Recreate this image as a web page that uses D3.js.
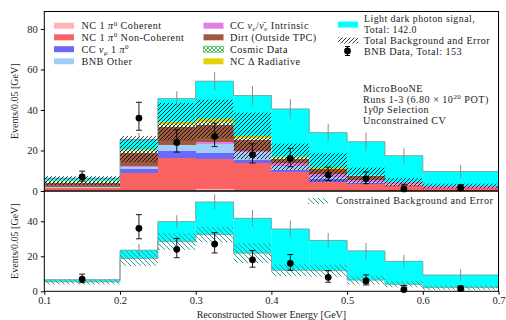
<!DOCTYPE html>
<html>
<head>
<meta charset="utf-8">
<script src="https://cdn.jsdelivr.net/npm/d3@7"></script>
<style>
  html, body { margin: 0; padding: 0; background: #fff; }
  svg { display: block; font-family: "Liberation Serif", "DejaVu Serif", serif; }
</style>
</head>
<body>
<svg id="chart" width="506" height="320"></svg>
<script>
// Bin edges in reconstructed shower energy [GeV]
const binLo = [0.10, 0.20, 0.25, 0.30, 0.35, 0.40, 0.45, 0.50, 0.55, 0.60];
const binHi = [0.20, 0.25, 0.30, 0.35, 0.40, 0.45, 0.50, 0.55, 0.60, 0.70];

// Background predictions, events / 0.05 GeV
const ncCoherent    = [0.3, 0.5, 0.7, 0.8, 0.7, 0.5, 0.4, 0.3, 0.2, 0.1];
const ncNonCoherent = [1.3, 8.2, 15.8, 15.0, 13.0, 8.7, 4.2, 3.0, 2.7, 1.2];
const ccNumuPi0     = [0.1, 2.0, 3.0, 2.8, 1.6, 1.2, 1.2, 0.8, 0.2, 0.1];
const bnbOther      = [0.1, 1.3, 3.0, 4.4, 3.8, 1.9, 1.0, 0.5, 0.2, 0.1];
const ccNueIntr     = [0.05, 0.2, 0.3, 1.3, 0.8, 1.4, 1.6, 0.8, 0.9, 0.8];
const dirt          = [1.9, 6.4, 8.7, 8.3, 5.3, 2.3, 2.5, 2.1, 0.1, 0.05];
const cosmicData    = [1.3, 1.7, 1.7, 1.6, 0.9, 0.3, 0.1, 0.0, 0.0, 0.0];
const ncDeltaRad    = [0.05, 0.3, 1.0, 1.4, 1.1, 0.6, 0.6, 0.1, 0.0, 0.05];

// Unconstrained background uncertainty
const bkgErr = [2.2, 6.5, 9.3, 9.5, 11.5, 6.5, 7.0, 3.9, 2.0, 1.2];

// Light dark photon signal (total 142.0 events)
const signal = [1.2, 4.7, 11.4, 18.6, 19.9, 23.6, 17.2, 16.7, 13.1, 7.2];
const mcErr  = [1.5, 3.5, 3.7, 4.4, 4.7, 4.8, 4.3, 4.5, 3.7, 3.3];

// Constrained background and its uncertainty
const cBkg = [5.4, 18.8, 28.4, 32.4, 21.8, 12.0, 11.8, 6.4, 4.0, 2.1];
const cErr = [1.45, 4.3, 4.8, 4.4, 5.7, 3.4, 3.4, 2.5, 1.75, 1.25];

// BNB data (total 153 events) with asymmetric errors
const dataVal = [7, 36, 24, 27, 18, 16, 8, 6, 1, 1.5];
const dataLo  = [2.1, 6.0, 4.8, 5.1, 4.2, 4.0, 2.8, 2.4, 0.8, 0.9];
const dataHi  = [2.8, 7.8, 6.2, 6.5, 5.3, 5.0, 3.8, 3.4, 2.3, 1.6];

const xTicks = [0.1, 0.2, 0.3, 0.4, 0.5, 0.6, 0.7];
const yTicksTop = [0, 20, 40, 60, 80];
const yTicksBot = [0, 20, 40];

const layers = [
  { name: "ncCoh",  vals: ncCoherent,    fill: "#ffb5b5" },
  { name: "ncNon",  vals: ncNonCoherent, fill: "#fb6363" },
  { name: "ccPi0",  vals: ccNumuPi0,     fill: "#6a6afa" },
  { name: "bnbOth", vals: bnbOther,      fill: "#a2cdf8" },
  { name: "ccNue",  vals: ccNueIntr,     fill: "#e07ee6" },
  { name: "dirt",   vals: dirt,          fill: "#9d5a3e" },
  { name: "cosmic", vals: cosmicData,    fill: "url(#cosmicPat)" },
  { name: "ncDel",  vals: ncDeltaRad,    fill: "#e3d10c" }
];

const svg = d3.select("#chart");
const L = 44.3, R = 498.5;
const topY0 = 11.5, topY1 = 191;
const botY0 = 191, botY1 = 291.3;

const x = d3.scaleLinear().domain([0.1, 0.7]).range([L, R]);
const yT = d3.scaleLinear().domain([0, 88.6]).range([topY1, topY0]);
const yB = d3.scaleLinear().domain([0, 57.3]).range([botY1, botY0]);

// ---- patterns ----
const defs = svg.append("defs");
const p1 = defs.append("pattern").attr("id", "bkgHatch").attr("patternUnits", "userSpaceOnUse")
  .attr("width", 4).attr("height", 4);
p1.append("path").attr("d", "M-1,1 l2,-2 M0,4 l4,-4 M3,5 l2,-2")
  .attr("stroke", "#000").attr("stroke-width", 0.8);

const p2 = defs.append("pattern").attr("id", "conHatch").attr("patternUnits", "userSpaceOnUse")
  .attr("width", 5).attr("height", 5);
p2.append("path").attr("d", "M-1,4 l2,2 M0,0 l5,5 M4,-1 l2,2")
  .attr("stroke", "#2f9c9c").attr("stroke-width", 1);

const p3 = defs.append("pattern").attr("id", "cosmicPat").attr("patternUnits", "userSpaceOnUse")
  .attr("width", 4).attr("height", 4);
p3.append("rect").attr("width", 4).attr("height", 4).attr("fill", "#fff");
p3.append("path").attr("d", "M0,4 l4,-4 M0,0 l4,4")
  .attr("stroke", "#3cb44b").attr("stroke-width", 0.9);

const bins = d3.range(binLo.length);

// ---- top panel: stacked backgrounds ----
const gTop = svg.append("g");
const cum = bins.map(() => 0);
layers.forEach(layer => {
  gTop.append("g").selectAll("rect").data(bins).join("rect")
    .attr("x", i => x(binLo[i]))
    .attr("width", i => x(binHi[i]) - x(binLo[i]))
    .attr("y", i => yT(cum[i] + layer.vals[i]))
    .attr("height", i => yT(cum[i]) - yT(cum[i] + layer.vals[i]))
    .attr("fill", layer.fill)
    .attr("shape-rendering", "crispEdges");
  bins.forEach(i => { cum[i] += layer.vals[i]; });
});
const bkgTot = cum.slice();

// signal stacked on top of the background
gTop.append("g").selectAll("rect").data(bins).join("rect")
  .attr("x", i => x(binLo[i]))
  .attr("width", i => x(binHi[i]) - x(binLo[i]))
  .attr("y", i => yT(bkgTot[i] + signal[i]))
  .attr("height", i => yT(bkgTot[i]) - yT(bkgTot[i] + signal[i]))
  .attr("fill", "#00ffff");

// step outline of the total prediction
function stepPath(vals, y) {
  let d = "";
  bins.forEach(i => {
    const cmd = i === 0 ? "M" : "L";
    d += `${cmd}${x(binLo[i])},${y(vals[i])}L${x(binHi[i])},${y(vals[i])}`;
  });
  return d;
}
const totTop = bins.map(i => bkgTot[i] + signal[i]);
gTop.append("path").attr("d", stepPath(totTop, yT) + `L${x(0.7)},${yT(0)}`)
  .attr("fill", "none").attr("stroke", "#6f9f9f").attr("stroke-width", 0.9);

// background error band
gTop.append("g").selectAll("rect").data(bins).join("rect")
  .attr("x", i => x(binLo[i]))
  .attr("width", i => x(binHi[i]) - x(binLo[i]))
  .attr("y", i => yT(bkgTot[i] + bkgErr[i]))
  .attr("height", i => yT(Math.max(0, bkgTot[i] - bkgErr[i])) - yT(bkgTot[i] + bkgErr[i]))
  .attr("fill", "url(#bkgHatch)");

// MC stat error of the prediction
gTop.append("g").selectAll("line").data(bins).join("line")
  .attr("x1", i => x((binLo[i] + binHi[i]) / 2))
  .attr("x2", i => x((binLo[i] + binHi[i]) / 2))
  .attr("y1", i => yT(totTop[i] - mcErr[i]))
  .attr("y2", i => yT(totTop[i] + mcErr[i]))
  .attr("stroke", "#8c8c8c").attr("stroke-width", 1);

// ---- bottom panel: constrained prediction ----
const gBot = svg.append("g");
gBot.append("g").selectAll("rect").data(bins).join("rect")
  .attr("x", i => x(binLo[i]))
  .attr("width", i => x(binHi[i]) - x(binLo[i]))
  .attr("y", i => yB(cBkg[i] + signal[i]))
  .attr("height", i => yB(cBkg[i]) - yB(cBkg[i] + signal[i]))
  .attr("fill", "#00ffff");
const totBot = bins.map(i => cBkg[i] + signal[i]);
gBot.append("path").attr("d", stepPath(totBot, yB) + `L${x(0.7)},${yB(0)}`)
  .attr("fill", "none").attr("stroke", "#6f9f9f").attr("stroke-width", 0.9);
gBot.append("path").attr("d", stepPath(cBkg, yB) + `L${x(0.7)},${yB(0)}`)
  .attr("fill", "none").attr("stroke", "#9a9a9a").attr("stroke-width", 0.9);
gBot.append("g").selectAll("rect").data(bins).join("rect")
  .attr("x", i => x(binLo[i]))
  .attr("width", i => x(binHi[i]) - x(binLo[i]))
  .attr("y", i => yB(cBkg[i] + cErr[i]))
  .attr("height", i => yB(Math.max(0, cBkg[i] - cErr[i])) - yB(cBkg[i] + cErr[i]))
  .attr("fill", "url(#conHatch)");
gBot.append("g").selectAll("line").data(bins).join("line")
  .attr("x1", i => x((binLo[i] + binHi[i]) / 2))
  .attr("x2", i => x((binLo[i] + binHi[i]) / 2))
  .attr("y1", i => yB(totBot[i] - mcErr[i]))
  .attr("y2", i => yB(totBot[i] + mcErr[i]))
  .attr("stroke", "#8c8c8c").attr("stroke-width", 1);

// ---- data points on both panels ----
function drawData(g, y) {
  const gd = g.append("g");
  bins.forEach(i => {
    const cx = x((binLo[i] + binHi[i]) / 2);
    const yl = y(dataVal[i] - dataLo[i]), yh = y(dataVal[i] + dataHi[i]);
    gd.append("line").attr("x1", cx).attr("x2", cx).attr("y1", yl).attr("y2", yh)
      .attr("stroke", "#000").attr("stroke-width", 0.9);
    [yl, yh].forEach(yy => gd.append("line").attr("x1", cx - 3).attr("x2", cx + 3)
      .attr("y1", yy).attr("y2", yy).attr("stroke", "#000").attr("stroke-width", 0.9));
    gd.append("circle").attr("cx", cx).attr("cy", y(dataVal[i])).attr("r", 3.4).attr("fill", "#000");
  });
}
drawData(gTop, yT);
drawData(gBot, yB);

// ---- frames and axes ----
svg.append("rect").attr("x", L).attr("y", topY0).attr("width", R - L).attr("height", topY1 - topY0)
  .attr("fill", "none").attr("stroke", "#000").attr("stroke-width", 1);
svg.append("rect").attr("x", L).attr("y", botY0).attr("width", R - L).attr("height", botY1 - botY0)
  .attr("fill", "none").attr("stroke", "#000").attr("stroke-width", 1);

function styleAxis(g) {
  g.select(".domain").remove();
  g.selectAll("text").attr("font-family", "Liberation Serif, serif").attr("font-size", 10.5).attr("fill", "#222");
  g.selectAll("line").attr("stroke", "#000");
}
svg.append("g").attr("transform", `translate(${L},0)`)
  .call(d3.axisLeft(yT).tickValues(yTicksTop).tickSize(3.5).tickPadding(3)).call(styleAxis);
svg.append("g").attr("transform", `translate(${L},0)`)
  .call(d3.axisLeft(yB).tickValues(yTicksBot).tickSize(3.5).tickPadding(3)).call(styleAxis);
svg.append("g").attr("transform", `translate(0,${botY1})`)
  .call(d3.axisBottom(x).tickValues(xTicks).tickFormat(d3.format(".1f")).tickSize(3.5).tickPadding(2)).call(styleAxis);

const labelFont = 10;
svg.append("text").attr("transform", `translate(18,${(topY0 + topY1) / 2}) rotate(-90)`)
  .attr("text-anchor", "middle").attr("font-size", labelFont).attr("fill", "#222").text("Events/0.05 [GeV]");
svg.append("text").attr("transform", `translate(18,${(botY0 + botY1) / 2}) rotate(-90)`)
  .attr("text-anchor", "middle").attr("font-size", labelFont).attr("fill", "#222").text("Events/0.05 [GeV]");
svg.append("text").attr("x", (L + R) / 2).attr("y", 317.5).attr("text-anchor", "middle")
  .attr("font-size", labelFont).attr("fill", "#222").text("Reconstructed Shower Energy [GeV]");

// ---- legend ----
const lg = svg.append("g").attr("font-size", 10.2).attr("letter-spacing", 0.45).attr("fill", "#222");
const rowsY = [25.7, 37.3, 49.2, 61.3];
function swatch(xp, yc, fill, w = 20, h = 6) {
  lg.append("rect").attr("x", xp).attr("y", yc - h / 2).attr("width", w).attr("height", h).attr("fill", fill);
}
// labels with super/subscripts via relative dy shifts
function label(xp, yc, parts) {
  const t = lg.append("text").attr("x", xp).attr("y", yc + 3.3);
  let shift = 0;
  parts.forEach(p => {
    const target = p.sup ? -3.5 : p.sub ? 2 : 0;
    const s = t.append("tspan").attr("dy", target - shift).text(p.t);
    shift = target;
    if (p.sup || p.sub) s.attr("font-size", 7);
    if (p.it) s.attr("font-style", "italic");
  });
}
swatch(54, rowsY[0], "#ffb5b5");
label(81.5, rowsY[0], [{ t: "NC 1 " }, { t: "π", it: true }, { t: "0", sup: true }, { t: " Coherent" }]);
swatch(54, rowsY[1], "#fb6363");
label(81.5, rowsY[1], [{ t: "NC 1 " }, { t: "π", it: true }, { t: "0", sup: true }, { t: " Non-Coherent" }]);
swatch(54, rowsY[2], "#6a6afa");
label(81.5, rowsY[2], [{ t: "CC " }, { t: "ν", it: true }, { t: "μ", sub: true, it: true }, { t: " 1 " }, { t: "π", it: true }, { t: "0", sup: true }]);
swatch(54, rowsY[3], "#a2cdf8");
label(81.5, rowsY[3], [{ t: "BNB Other" }]);

swatch(203.5, rowsY[0], "#e07ee6");
label(230, rowsY[0], [{ t: "CC " }, { t: "ν", it: true }, { t: "e", sub: true, it: true }, { t: "/" }, { t: "ν̄", it: true }, { t: "e", sub: true, it: true }, { t: " Intrinsic" }]);
swatch(203.5, rowsY[1], "#9d5a3e");
label(230, rowsY[1], [{ t: "Dirt (Outside TPC)" }]);
lg.append("rect").attr("x", 203.5).attr("y", rowsY[2] - 3).attr("width", 20).attr("height", 6)
  .attr("fill", "url(#cosmicPat)").attr("stroke", "#3cb44b").attr("stroke-width", 0.6);
label(230, rowsY[2], [{ t: "Cosmic Data" }]);
swatch(203.5, rowsY[3], "#e3d10c");
label(230, rowsY[3], [{ t: "NC Δ Radiative" }]);

swatch(338, 24.5, "#00ffff");
const sigLabel = lg.append("text").attr("x", 364).attr("y", 21.6).attr("font-size", 9.9);
sigLabel.append("tspan").text("Light dark photon signal,");
sigLabel.append("tspan").attr("x", 364).attr("dy", 11.2).text("Total: 142.0");
lg.append("rect").attr("x", 338).attr("y", 37.5).attr("width", 20).attr("height", 6).attr("fill", "url(#bkgHatch)");
lg.append("text").attr("x", 364).attr("y", 43.8).text("Total Background and Error");
lg.append("line").attr("x1", 347.5).attr("x2", 347.5).attr("y1", 46.5).attr("y2", 55.5).attr("stroke", "#000");
lg.append("line").attr("x1", 345).attr("x2", 350).attr("y1", 46.5).attr("y2", 46.5).attr("stroke", "#000");
lg.append("line").attr("x1", 345).attr("x2", 350).attr("y1", 55.5).attr("y2", 55.5).attr("stroke", "#000");
lg.append("circle").attr("cx", 347.5).attr("cy", 51).attr("r", 3.4).attr("fill", "#000");
lg.append("text").attr("x", 364).attr("y", 54.8).text("BNB Data, Total: 153");

// experiment annotation
const ann = svg.append("g").attr("font-size", 10.2).attr("letter-spacing", 0.45).attr("fill", "#222");
ann.append("text").attr("x", 363).attr("y", 92).text("MicroBooNE");
const runs = ann.append("text").attr("x", 363).attr("y", 102.5);
runs.append("tspan").text("Runs 1-3 (6.80 × 10");
runs.append("tspan").attr("dy", -3.5).attr("font-size", 7).text("20");
runs.append("tspan").attr("dy", 3.5).text(" POT)");
const sel = ann.append("text").attr("x", 363).attr("y", 113);
sel.append("tspan").text("1");
sel.append("tspan").attr("font-style", "italic").text("γ");
sel.append("tspan").text("0");
sel.append("tspan").attr("font-style", "italic").text("p");
sel.append("tspan").text(" Selection");
ann.append("text").attr("x", 363).attr("y", 123.5).text("Unconstrained CV");

// constrained legend in lower panel
lg.append("rect").attr("x", 308).attr("y", 198).attr("width", 20).attr("height", 6).attr("fill", "url(#conHatch)");
lg.append("text").attr("x", 336).attr("y", 204).text("Constrained Background and Error");
</script>
</body>
</html>
